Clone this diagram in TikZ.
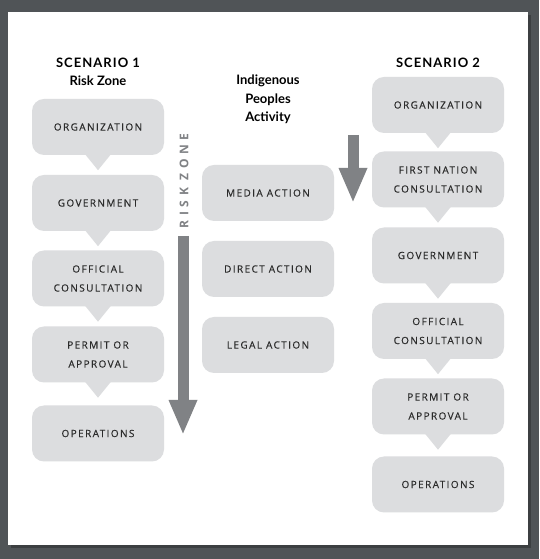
\documentclass[tikz,border=0pt]{standalone}
\usepackage{fontspec}
\setmainfont{Open Sans}
\newfontfamily\boxfont[LetterSpace=14, FakeBold=0.4]{Open Sans}
\newfontfamily\headfont{Lato}
\newfontfamily\scenfont[LetterSpace=8]{Lato}
\newfontfamily\zonefont[LetterSpace=38]{Open Sans}
\usepackage{tikz}
\usetikzlibrary{arrows.meta}

\definecolor{bgdark}{HTML}{505457}
\definecolor{shadowdark}{HTML}{3C3F41}
\definecolor{boxgrey}{HTML}{DCDDDF}
\definecolor{arrowgrey}{HTML}{808285}
\definecolor{textdark}{HTML}{2B2B2B}

\tikzset{
    stepnode/.style={fill=boxgrey, rounded corners=12pt, minimum width=132pt, minimum height=56pt,
        inner sep=0pt, align=center, text=textdark, font=\boxfont\fontsize{10}{19}\selectfont},
    title/.style={align=center, text=black, font=\headfont\bfseries\fontsize{13}{18.5}\selectfont},
    bigarrow/.style={draw=arrowgrey, line width=11pt, -{Triangle[width=26pt, length=35pt]}}
}

\begin{document}
\begin{tikzpicture}[x=1pt, y=1pt]
    % Background and page
    \fill[bgdark] (0,0) rectangle (539,559);
    \fill[shadowdark] (11,11) rectangle (531,544);
    \fill[white] (8,14) rectangle (528,547);
    \useasboundingbox (0,0) rectangle (539,559);

    % Headings
    \node[title] (head1) at (98,487) {{\scenfont SCENARIO 1}\\Risk Zone};
    \node[title] (head2) at (268,459.5) {Indigenous\\Peoples\\Activity};
    \node[title] (head3) at (438,496) {\scenfont SCENARIO 2};

    % Scenario 1
    \node[stepnode] (org1) at (98,432) {ORGANIZATION};
    \node[stepnode] (gov1) at (98,356) {GOVERNMENT};
    \node[stepnode] (con1) at (98,280.5) {OFFICIAL\\CONSULTATION};
    \node[stepnode] (per1) at (98,204.5) {PERMIT OR\\APPROVAL};
    \node[stepnode] (ope1) at (98,125.5) {OPERATIONS};

    % Indigenous Peoples activity
    \node[stepnode] (media) at (268,366) {MEDIA ACTION};
    \node[stepnode] (direct) at (268,290) {DIRECT ACTION};
    \node[stepnode] (legal) at (268,214) {LEGAL ACTION};

    % Scenario 2
    \node[stepnode] (org2) at (438,454) {ORGANIZATION};
    \node[stepnode] (fnc2) at (438,379.5) {FIRST NATION\\CONSULTATION};
    \node[stepnode] (gov2) at (438,303.5) {GOVERNMENT};
    \node[stepnode] (con2) at (438,228) {OFFICIAL\\CONSULTATION};
    \node[stepnode] (per2) at (438,152.5) {PERMIT OR\\APPROVAL};
    \node[stepnode] (ope2) at (438,74.5) {OPERATIONS};

    % Callout tails
    \foreach \b in {org1,gov1,con1,per1,org2,fnc2,gov2,con2,per2} {
        \fill[boxgrey] ([xshift=-13pt,yshift=1pt]\b.south) -- ([yshift=-15pt]\b.south) -- ([xshift=13pt,yshift=1pt]\b.south) -- cycle;
    }

    % Risk zone arrow
    \coordinate (zonetop) at (183,323);
    \coordinate (zonetip) at (183,124);
    \draw[bigarrow] (zonetop) -- (zonetip);
    \node[rotate=90, text=arrowgrey, font=\zonefont\bfseries\fontsize{12}{12}\selectfont] (zone) at (184,378) {RISK ZONE};

    % Activity arrow
    \coordinate (acttop) at (353,424);
    \coordinate (acttip) at (353,356);
    \draw[bigarrow] (acttop) -- (acttip);
\end{tikzpicture}
\end{document}
